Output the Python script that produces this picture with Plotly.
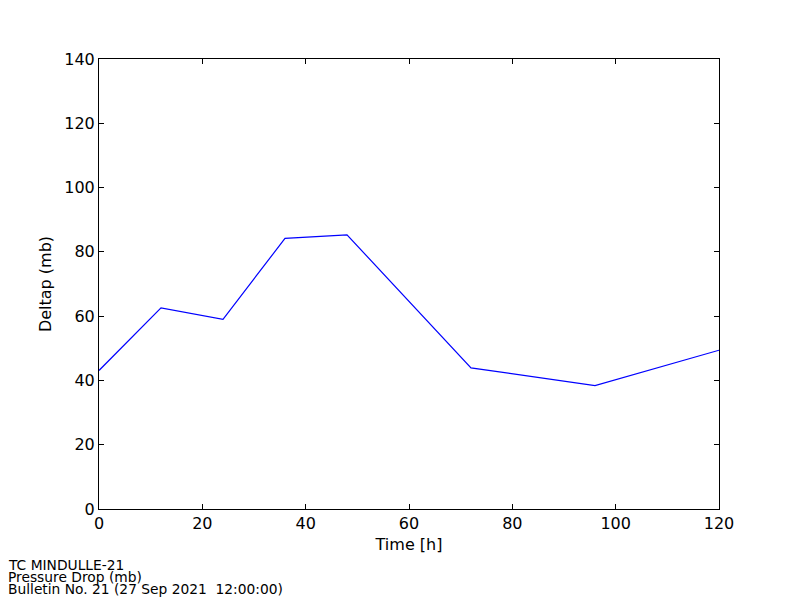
import plotly.graph_objects as go

time_h = [0, 12, 24, 36, 48, 72, 96, 120]
deltap = [43.1, 62.6, 59.0, 84.2, 85.3, 43.9, 38.4, 49.4]
footer_lines = ["TC MINDULLE-21", "Pressure Drop (mb)", "Bulletin No. 21 (27 Sep 2021  12:00:00)"]

# page body has an 8px margin; compensate so the plot lands where the reference has it
OFF = 8
W, Hf = 800 - OFF, 600 - OFF
L, T = 99 - OFF, 59 - OFF
R = W - L - 620
B = Hf - T - 450
PW, PH = 620, 450

fig = go.Figure()
fig.add_trace(go.Scatter(x=time_h, y=deltap, mode="lines",
                         line=dict(color="#0000ff", width=1.2)))

axis_common = dict(showgrid=False, zeroline=False, showline=True, linecolor="black",
                   linewidth=1, mirror="ticks", ticks="inside", ticklen=5,
                   tickcolor="black", tickfont=dict(family="DejaVu Sans", size=16, color="black"))
fig.update_xaxes(range=[0, 120], dtick=20, title=dict(text="Time [h]", standoff=6,
                 font=dict(family="DejaVu Sans", size=16, color="black")), **axis_common)
fig.update_yaxes(range=[0, 140], dtick=20, title=dict(text="Deltap (mb)", standoff=8,
                 font=dict(family="DejaVu Sans", size=16, color="black")), **axis_common)

for i, txt in enumerate(footer_lines):
    ypix = 565 + i * 12 - OFF
    fig.add_annotation(text=txt, xref="paper", yref="paper", showarrow=False,
                       x=(7 - OFF - L) / PW, y=(T + PH - ypix) / PH,
                       xanchor="left", yanchor="middle", borderpad=0,
                       font=dict(family="DejaVu Sans", size=13.8, color="black"))

fig.update_layout(width=W, height=Hf, margin=dict(l=L, r=R, t=T, b=B),
                  plot_bgcolor="white", paper_bgcolor="white", showlegend=False)
fig.write_html("out.html")
